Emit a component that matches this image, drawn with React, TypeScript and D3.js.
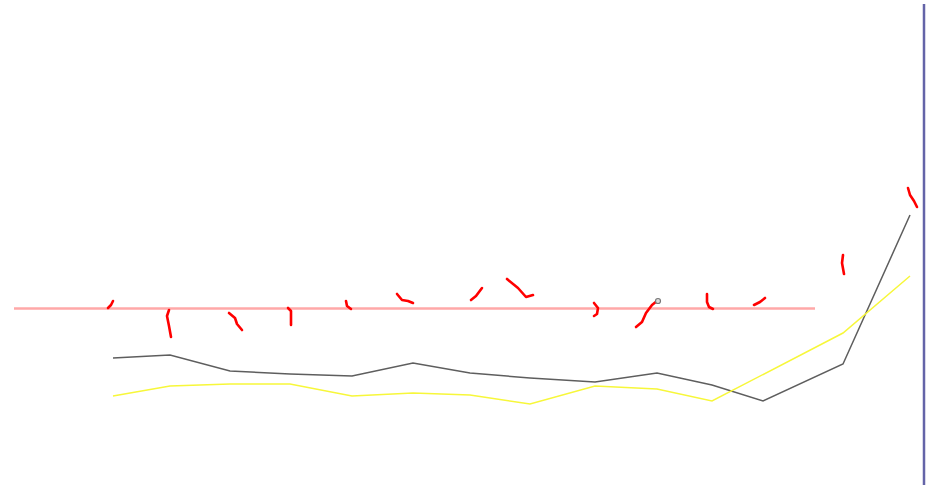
import React from "react";
import * as d3 from "d3";

const WIDTH = 933;
const HEIGHT = 485;

// x positions of the samples (shared by both series)
const xValues = [9.9, 15.6, 21.6, 27.6, 33.8, 39.9, 45.6, 51.6, 58.1, 64.3, 69.8, 74.9, 82.9, 89.6];
const greyValues = [12.7, 13.0, 11.4, 11.1, 10.9, 12.2, 11.2, 10.7, 10.3, 11.2, 10.0, 8.4, 12.1, 27.0];
const yellowValues: (number | null)[] = [8.9, 9.9, 10.1, 10.1, 8.9, 9.2, 9.0, 8.1, 9.9, 9.6, 8.4, null, 15.2, 20.9];

// reference level
const baselineValue = 17.65;
const baselineExtent = [0, 80.1];

// right border
const borderX = 91.0;
const borderTop = 48.1;

// hand-drawn red strokes
const strokes: [number, number][][] = [
  [[9.4, 17.7], [9.7, 18.0], [9.9, 18.4]],
  [[15.5, 17.5], [15.3, 16.9], [15.5, 15.9], [15.7, 14.8]],
  [[21.5, 17.2], [22.1, 16.7], [22.3, 16.1], [22.8, 15.5]],
  [[27.4, 17.7], [27.7, 17.4], [27.7, 16.0]],
  [[33.2, 18.4], [33.3, 17.9], [33.7, 17.6]],
  [[38.3, 19.1], [38.8, 18.5], [39.4, 18.4], [39.9, 18.2]],
  [[45.7, 18.5], [46.2, 18.9], [46.8, 19.7]],
  [[49.3, 20.6], [50.4, 19.7], [51.2, 18.8], [51.9, 19.0]],
  [[58.0, 18.2], [58.4, 17.7], [58.3, 17.1], [58.0, 16.9]],
  [[62.2, 15.8], [62.8, 16.3], [63.2, 17.2], [63.8, 18.0], [64.3, 18.4]],
  [[69.3, 19.1], [69.3, 18.3], [69.5, 17.8], [69.9, 17.6]],
  [[74.0, 18.0], [74.6, 18.3], [75.1, 18.7]],
  [[82.9, 23.0], [82.8, 22.2], [83.0, 21.1]],
  [[89.4, 29.7], [89.6, 29.0], [90.0, 28.4], [90.3, 27.8]],
];

// small marker at the end of one stroke
const markerPoint: [number, number] = [64.4, 18.4];

export default function App() {
  const x = d3.scaleLinear().domain([0, 91]).range([14, 924]);
  const y = d3.scaleLinear().domain([0, 48.5]).range([HEIGHT, 0]);

  const line = d3
    .line<[number, number]>()
    .x((d) => x(d[0]))
    .y((d) => y(d[1]));

  const greyPts = xValues.map((v, i) => [v, greyValues[i]] as [number, number]);
  const yellowPts = xValues
    .map((v, i) => [v, yellowValues[i]] as [number, number | null])
    .filter((d): d is [number, number] => d[1] !== null);

  return (
    <div style={{ position: "fixed", top: 0, left: 0, width: WIDTH, height: HEIGHT, background: "#fff" }}>
      <svg width={WIDTH} height={HEIGHT} style={{ display: "block" }}>
        <rect width={WIDTH} height={HEIGHT} fill="#ffffff" />

        {/* reference line */}
        <line
          x1={x(baselineExtent[0])}
          x2={x(baselineExtent[1])}
          y1={y(baselineValue)}
          y2={y(baselineValue)}
          stroke="#ffa8a8"
          strokeWidth={2.5}
        />

        {/* series */}
        <path d={line(greyPts) ?? ""} fill="none" stroke="#5e5e5e" strokeWidth={1.5} />
        <path d={line(yellowPts) ?? ""} fill="none" stroke="#f7f73a" strokeWidth={1.5} />

        {/* red strokes */}
        {strokes.map((s, i) => (
          <path
            key={i}
            d={line(s) ?? ""}
            fill="none"
            stroke="#ff0000"
            strokeWidth={2.6}
            strokeLinecap="round"
            strokeLinejoin="round"
          />
        ))}

        <circle
          cx={x(markerPoint[0])}
          cy={y(markerPoint[1])}
          r={2.5}
          fill="#dddddd"
          stroke="#777777"
          strokeWidth={1.2}
        />

        {/* right border */}
        <line
          x1={x(borderX)}
          x2={x(borderX)}
          y1={y(borderTop)}
          y2={HEIGHT}
          stroke="#6464a8"
          strokeWidth={2.5}
        />
      </svg>
    </div>
  );
}
